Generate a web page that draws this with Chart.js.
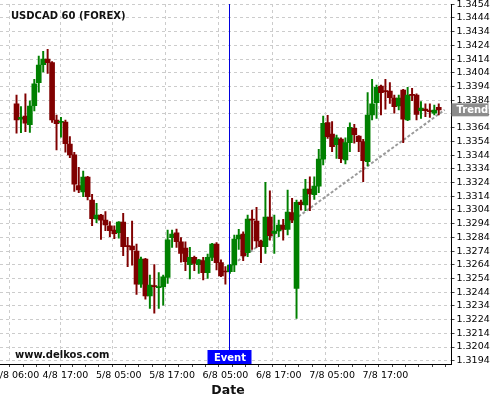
<!DOCTYPE html>
<html>
<head>
<meta charset="utf-8">
<script src="https://cdn.jsdelivr.net/npm/chart.js@4/dist/chart.umd.min.js"></script>
<style>
  html, body { margin: 0; padding: 0; background: #fff; }
  #wrap { width: 500px; height: 400px; }
</style>
</head>
<body>
<div id="wrap"><canvas id="c" width="500" height="400"></canvas></div>
<script>
// Hourly USDCAD candles, first bar = 4/8 06:00
const tickIndex  = [0, 11, 23, 35, 47, 59, 71, 83];
const tickLabels = ['4/8 06:00', '4/8 17:00', '5/8 05:00', '5/8 17:00',
                    '6/8 05:00', '6/8 17:00', '7/8 05:00', '7/8 17:00'];
const minorIndex = [3, 6, 9, 14, 17, 20, 26, 29, 32, 38, 41, 44, 50, 53, 56,
                    62, 65, 68, 74, 77, 80, 86, 89, 92, 95];

const priceTicks = [1.3194, 1.3204, 1.3214, 1.3224, 1.3234, 1.3244, 1.3254,
                    1.3264, 1.3274, 1.3284, 1.3294, 1.3304, 1.3314, 1.3324,
                    1.3334, 1.3344, 1.3354, 1.3364, 1.3374, 1.3384, 1.3394,
                    1.3404, 1.3414, 1.3424, 1.3434, 1.3444, 1.3454];

const open = [
  1.33813, 1.33701, 1.33725, 1.33662, 1.33800, 1.33968, 1.34100, 1.34141, 1.34114, 1.33696,
  1.33679, 1.33681, 1.33521, 1.33441, 1.33217, 1.33171, 1.33280, 1.33112, 1.32974, 1.33003,
  1.32966, 1.32923, 1.32893, 1.32874, 1.32952, 1.32777, 1.32777, 1.32740, 1.32499, 1.32682,
  1.32412, 1.32485, 1.32473, 1.32480, 1.32548, 1.32838, 1.32872, 1.32808, 1.32762, 1.32640,
  1.32694, 1.32640, 1.32670, 1.32582, 1.32694, 1.32791, 1.32655, 1.32594, 1.32589, 1.32638,
  1.32828, 1.32864, 1.32728, 1.32974, 1.32959, 1.32813, 1.32772, 1.32988, 1.32869, 1.32886,
  1.32930, 1.32898, 1.33020, 1.32468, 1.33098, 1.33076, 1.33192, 1.33151, 1.33214, 1.33411,
  1.33677, 1.33594, 1.33516, 1.33557, 1.33404, 1.33531, 1.33635, 1.33579, 1.33538, 1.33392,
  1.33732, 1.33822, 1.33944, 1.33907, 1.33907, 1.33856, 1.33798, 1.33915, 1.33696, 1.33881,
  1.33878, 1.33764, 1.33776, 1.33764, 1.33745, 1.33788
];
const high = [
  1.33878, 1.33793, 1.33886, 1.33835, 1.33993, 1.34163, 1.34197, 1.34212, 1.34122, 1.33732,
  1.33715, 1.33696, 1.33574, 1.33460, 1.33351, 1.33324, 1.33285, 1.33154, 1.33088, 1.33008,
  1.33027, 1.32954, 1.32923, 1.32954, 1.33015, 1.32840, 1.32959, 1.32791, 1.32696, 1.32687,
  1.32565, 1.32641, 1.32582, 1.32565, 1.32893, 1.32893, 1.32901, 1.32838, 1.32808, 1.32767,
  1.32704, 1.32680, 1.32694, 1.32718, 1.32796, 1.32801, 1.32675, 1.32626, 1.32643, 1.32857,
  1.32898, 1.32881, 1.33003, 1.33039, 1.33059, 1.32820, 1.33241, 1.33180, 1.33003, 1.32966,
  1.32971, 1.33185, 1.33125, 1.33112, 1.33112, 1.33263, 1.33282, 1.33282, 1.33482, 1.33725,
  1.33730, 1.33684, 1.33586, 1.33565, 1.33565, 1.33676, 1.33664, 1.33582, 1.33555, 1.33895,
  1.33993, 1.33951, 1.33951, 1.33993, 1.33969, 1.33878, 1.33878, 1.33920, 1.33934, 1.33927,
  1.33886, 1.33830, 1.33813, 1.33813, 1.33805, 1.33813
];
const low = [
  1.33599, 1.33604, 1.33611, 1.33606, 1.33762, 1.33898, 1.34046, 1.34036, 1.33679, 1.33477,
  1.33570, 1.33462, 1.33421, 1.33175, 1.33166, 1.33137, 1.33112, 1.32925, 1.32947, 1.32825,
  1.32889, 1.32845, 1.32830, 1.32833, 1.32706, 1.32626, 1.32636, 1.32424, 1.32475, 1.32388,
  1.32322, 1.32286, 1.32322, 1.32346, 1.32504, 1.32767, 1.32767, 1.32658, 1.32597, 1.32536,
  1.32597, 1.32577, 1.32529, 1.32541, 1.32670, 1.32602, 1.32553, 1.32499, 1.32577, 1.32589,
  1.32752, 1.32670, 1.32699, 1.32752, 1.32767, 1.32655, 1.32723, 1.32820, 1.32723, 1.32845,
  1.32820, 1.32857, 1.32947, 1.32249, 1.33039, 1.33034, 1.33034, 1.33117, 1.33166, 1.33368,
  1.33562, 1.33465, 1.33416, 1.33385, 1.33375, 1.33465, 1.33526, 1.33465, 1.33246, 1.33360,
  1.33696, 1.33708, 1.33732, 1.33774, 1.33817, 1.33745, 1.33769, 1.33531, 1.33691, 1.33837,
  1.33696, 1.33708, 1.33720, 1.33715, 1.33732, 1.33732
];
const close = [
  1.33696, 1.33715, 1.33672, 1.33798, 1.33959, 1.34097, 1.34141, 1.34114, 1.33696, 1.33669,
  1.33684, 1.33523, 1.33441, 1.33227, 1.33185, 1.33280, 1.33137, 1.32976, 1.33003, 1.32966,
  1.32930, 1.32889, 1.32867, 1.32952, 1.32772, 1.32772, 1.32748, 1.32499, 1.32682, 1.32412,
  1.32492, 1.32480, 1.32478, 1.32551, 1.32821, 1.32864, 1.32808, 1.32723, 1.32662, 1.32694,
  1.32650, 1.32675, 1.32582, 1.32694, 1.32791, 1.32655, 1.32558, 1.32587, 1.32638, 1.32828,
  1.32857, 1.32704, 1.32974, 1.32966, 1.32813, 1.32772, 1.32988, 1.32852, 1.32886, 1.32930,
  1.32898, 1.33025, 1.32966, 1.33095, 1.33078, 1.33192, 1.33156, 1.33214, 1.33411, 1.33672,
  1.33574, 1.33501, 1.33565, 1.33414, 1.33531, 1.33642, 1.33589, 1.33538, 1.33399, 1.33732,
  1.33813, 1.33934, 1.33895, 1.33903, 1.33859, 1.33793, 1.33856, 1.33701, 1.33878, 1.33876,
  1.33737, 1.33783, 1.33764, 1.33757, 1.33769, 1.33769
];

const eventIndex = 48;
const trendStart = { x: 48, y: 1.32626 };
const trendEnd   = { x: 96.33, y: 1.33770 };

const UP = '#008000', DOWN = '#800000';
const FONT = "'DejaVu Sans', Verdana, sans-serif";
const candleColor = open.map((o, i) => close[i] >= o ? UP : DOWN);
const bodies = open.map((o, i) => ({ x: i, y: [o, close[i]] }));
const wicks  = open.map((o, i) => ({ x: i, y: [low[i], high[i]] }));
const xTicks = tickIndex.concat(minorIndex).sort((a, b) => a - b);

const overlay = {
  id: 'overlay',
  afterDatasetsDraw(chart) {
    const { ctx, chartArea, scales } = chart;
    const ex = Math.round(scales.x.getPixelForValue(eventIndex)) - 0.5;
    ctx.save();
    ctx.strokeStyle = '#0000dd';
    ctx.lineWidth = 1;
    ctx.beginPath();
    ctx.moveTo(ex, chartArea.top);
    ctx.lineTo(ex, 350);
    ctx.stroke();
    ctx.restore();
  },
  afterDraw(chart) {
    const { ctx, chartArea, scales } = chart;
    ctx.save();
    ctx.fillStyle = '#111';
    ctx.textBaseline = 'alphabetic';
    ctx.textAlign = 'left';
    ctx.font = 'bold 10px ' + FONT;
    ctx.fillText('USDCAD 60 (FOREX)', 11, 19);
    ctx.fillText('www.delkos.com', 15, 357.5);

    ctx.textAlign = 'center';
    ctx.font = 'bold 12.5px ' + FONT;
    ctx.fillText('Date', 228, 394);

    // event marker label
    const ex = Math.round(scales.x.getPixelForValue(eventIndex)) - 0.5;
    ctx.fillStyle = '#0000ff';
    ctx.fillRect(ex - 22, 350, 44, 14);
    ctx.fillStyle = '#fff';
    ctx.font = 'bold 10px ' + FONT;
    ctx.textAlign = 'center';
    ctx.fillText('Event', ex + 0.5, 361);

    // trend end label on the price axis
    const ty = scales.y.getPixelForValue(trendEnd.y);
    ctx.fillStyle = '#8c8c8c';
    ctx.fillRect(chartArea.right, ty - 6.5, 37, 13);
    ctx.fillStyle = '#fff';
    ctx.textAlign = 'left';
    ctx.textBaseline = 'middle';
    ctx.fillText('Trend', chartArea.right + 5, ty + 0.5);
    ctx.restore();
  }
};

new Chart(document.getElementById('c'), {
  data: {
    datasets: [
      {
        type: 'bar', data: bodies, backgroundColor: candleColor,
        borderWidth: 0, barThickness: 5, minBarLength: 1, grouped: false, order: 1
      },
      {
        type: 'bar', data: wicks, backgroundColor: candleColor,
        borderWidth: 0, barThickness: 1.3, grouped: false, order: 2
      },
      {
        type: 'line', data: [trendStart, trendEnd], borderColor: '#9a9a9a',
        borderWidth: 2, borderDash: [3, 2], pointRadius: 0, fill: false, order: 3
      }
    ]
  },
  options: {
    responsive: false,
    animation: false,
    events: [],
    layout: { padding: { top: 4, left: 0, right: 0, bottom: 0 } },
    plugins: { legend: { display: false }, tooltip: { enabled: false }, title: { display: false } },
    scales: {
      x: {
        type: 'linear', position: 'bottom', min: -2.18, max: 96.33,
        afterBuildTicks: s => { s.ticks = xTicks.map(v => ({ value: v })); },
        afterFit: s => { s.height = 36; s.paddingLeft = 0; s.paddingRight = 0; },
        ticks: {
          autoSkip: false, maxRotation: 0, minRotation: 0, padding: 3, color: '#000',
          font: { family: FONT, size: 9.5 },
          callback: v => { const k = tickIndex.indexOf(v); return k >= 0 ? tickLabels[k] : ''; }
        },
        grid: {
          color: c => (c.tick && tickIndex.includes(c.tick.value)) ? '#cccccc' : 'rgba(0,0,0,0)',
          tickColor: '#444', tickLength: 3, tickBorderDash: [], lineWidth: 1
        },
        border: { display: true, color: '#000', width: 1, dash: [3, 3] }
      },
      y: {
        type: 'linear', position: 'right', min: 1.31916, max: 1.34542,
        afterBuildTicks: s => { s.ticks = priceTicks.map(v => ({ value: v })); },
        afterFit: s => { s.width = 48.5; s.paddingTop = 0; s.paddingBottom = 0; },
        ticks: {
          autoSkip: false, padding: 2, color: '#000', font: { family: FONT, size: 9.5 },
          callback: v => v.toFixed(4)
        },
        grid: { color: '#cccccc', tickColor: '#444', tickLength: 3, tickBorderDash: [], lineWidth: 1 },
        border: { display: true, color: '#000', width: 1, dash: [3, 3] }
      }
    }
  },
  plugins: [overlay]
});
</script>
</body>
</html>
